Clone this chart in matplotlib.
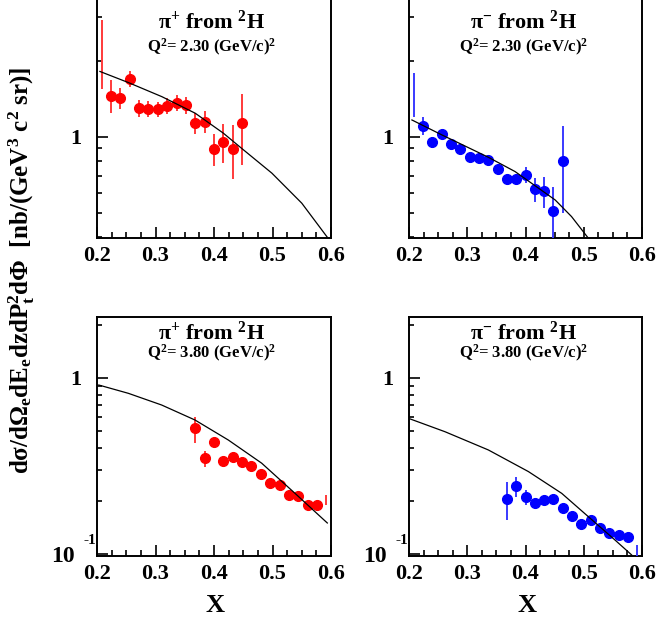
import matplotlib
matplotlib.use('Agg')
import matplotlib.pyplot as plt
from matplotlib.ticker import FixedLocator, NullFormatter

plt.rcParams.update({
    'font.family': ['Liberation Serif', 'DejaVu Serif'],
    'font.weight': 'bold',
    'mathtext.fontset': 'custom',
    'mathtext.rm': 'Liberation Serif:bold',
    'mathtext.it': 'Liberation Serif:italic:bold',
    'mathtext.bf': 'Liberation Serif:bold',
    'mathtext.default': 'rm',
    'axes.linewidth': 1.4,
})

# ---------------- data ----------------
# pi+ , Q2 = 2.30
x_tl = [0.224, 0.240, 0.256, 0.272, 0.288, 0.304, 0.320, 0.336, 0.352, 0.368, 0.384, 0.400, 0.416, 0.432, 0.448]
y_tl = [1.458, 1.432, 1.703, 1.300, 1.291, 1.291, 1.327, 1.368, 1.336, 1.133, 1.150, 0.899, 0.955, 0.899, 1.133]
hi_tl = [1.683, 1.569, 1.828, 1.403, 1.389, 1.380, 1.424, 1.468, 1.437, 1.242, 1.268, 1.028, 1.123, 1.113, 1.481]
lo_tl = [1.242, 1.288, 1.583, 1.197, 1.197, 1.200, 1.234, 1.271, 1.234, 1.028, 1.034, 0.767, 0.787, 0.681, 0.774]
barx_tl = [0.208]
barlo_tl = [1.546]
barhi_tl = [2.91]
cx_tl = [0.205, 0.254, 0.311, 0.368, 0.416, 0.447, 0.499, 0.550, 0.595]
cy_tl = [1.820, 1.643, 1.445, 1.242, 1.035, 0.902, 0.718, 0.546, 0.396]

# pi- , Q2 = 2.30
x_tr = [0.224, 0.240, 0.256, 0.272, 0.288, 0.304, 0.320, 0.336, 0.352, 0.368, 0.384, 0.400, 0.416, 0.432, 0.448, 0.464]
y_tr = [1.106, 0.955, 1.028, 0.935, 0.899, 0.835, 0.823, 0.810, 0.746, 0.679, 0.679, 0.707, 0.620, 0.612, 0.509, 0.803]
hi_tr = [1.197, 0.997, 1.060, 0.975, 0.930, 0.860, 0.850, 0.835, 0.770, 0.700, 0.705, 0.762, 0.686, 0.692, 0.632, 1.106]
lo_tr = [1.018, 0.902, 0.997, 0.900, 0.870, 0.810, 0.800, 0.785, 0.722, 0.655, 0.655, 0.655, 0.554, 0.521, 0.350, 0.500]
barx_tr = [0.208]
barlo_tr = [1.204]
barhi_tr = [1.800]
cx_tr = [0.205, 0.256, 0.288, 0.336, 0.382, 0.451, 0.479, 0.508]
cy_tr = [1.168, 1.020, 0.940, 0.831, 0.729, 0.562, 0.483, 0.396]

# pi+ , Q2 = 3.80
x_bl = [0.368, 0.384, 0.400, 0.416, 0.432, 0.448, 0.464, 0.480, 0.496, 0.512, 0.528, 0.544, 0.560, 0.576]
y_bl = [0.518, 0.350, 0.431, 0.338, 0.354, 0.333, 0.315, 0.286, 0.254, 0.247, 0.217, 0.213, 0.189, 0.191]
hi_bl = [0.598, 0.386, 0.445, 0.348, 0.365, 0.343, 0.324, 0.294, 0.261, 0.254, 0.223, 0.219, 0.194, 0.196]
lo_bl = [0.429, 0.311, 0.418, 0.328, 0.343, 0.323, 0.306, 0.278, 0.247, 0.240, 0.211, 0.207, 0.184, 0.186]
barx_bl = [0.592]
barlo_bl = [0.190]
barhi_bl = [0.216]
cx_bl = [0.203, 0.2536, 0.3105, 0.3675, 0.4245, 0.4815, 0.5385, 0.5937]
cy_bl = [0.912, 0.818, 0.702, 0.577, 0.444, 0.328, 0.221, 0.150]

# pi- , Q2 = 3.80
x_br = [0.368, 0.384, 0.400, 0.416, 0.432, 0.448, 0.464, 0.480, 0.496, 0.512, 0.528, 0.544, 0.560, 0.576]
y_br = [0.205, 0.243, 0.212, 0.196, 0.203, 0.204, 0.182, 0.165, 0.149, 0.156, 0.141, 0.132, 0.128, 0.125]
hi_br = [0.258, 0.273, 0.231, 0.202, 0.209, 0.210, 0.187, 0.170, 0.153, 0.160, 0.145, 0.136, 0.132, 0.129]
lo_br = [0.156, 0.212, 0.190, 0.190, 0.197, 0.198, 0.177, 0.160, 0.145, 0.152, 0.137, 0.128, 0.124, 0.121]
barx_br = [0.592]
barlo_br = [0.090]
barhi_br = [0.112]
cx_br = [0.202, 0.2618, 0.3362, 0.4049, 0.4622, 0.5078, 0.5537, 0.5823, 0.585]
cy_br = [0.585, 0.495, 0.390, 0.294, 0.221, 0.163, 0.120, 0.0987, 0.096]

particles = ['π$^{+}$', 'π$^{-}$', 'π$^{+}$', 'π$^{-}$']
q2_labels = ['2.30', '2.30', '3.80', '3.80']
xticks = [0.2, 0.3, 0.4, 0.5, 0.6]
xtick_labels = ['0.2', '0.3', '0.4', '0.5', '0.6']
ylabel = 'dσ/dΩ$_{e}$dE$_{e}$dzdP$_{t}^{2}$dΦ  [nb/(GeV$^{3}$ c$^{2}$ sr)]'
xlabel = 'X'

# ---------------- layout ----------------
W, H = 658, 620
fig = plt.figure(figsize=(W / 100, H / 100), dpi=100)


def rect(x0, y0, x1, y1):
    return [x0 / W, 1 - y1 / H, (x1 - x0) / W, (y1 - y0) / H]


def fxy(px, py):
    return px / W, 1 - py / H


panels = [
    dict(r=(97, -1, 331, 238), x=x_tl, y=y_tl, hi=hi_tl, lo=lo_tl, bx=barx_tl, blo=barlo_tl, bhi=barhi_tl,
         cx=cx_tl, cy=cy_tl, col='#ff0000', ecol='#ff3a3a', ylim=(0.397, 3.53),
         major=[1.0], minor=[0.4, 0.5, 0.6, 0.7, 0.8, 0.9, 2.0, 3.0], t1=22, t2=47),
    dict(r=(409, -1, 642, 238), x=x_tr, y=y_tr, hi=hi_tr, lo=lo_tr, bx=barx_tr, blo=barlo_tr, bhi=barhi_tr,
         cx=cx_tr, cy=cy_tr, col='#0000ff', ecol='#3a3aff', ylim=(0.397, 3.53),
         major=[1.0], minor=[0.4, 0.5, 0.6, 0.7, 0.8, 0.9, 2.0, 3.0], t1=22, t2=47),
    dict(r=(97, 317, 331, 556), x=x_bl, y=y_bl, hi=hi_bl, lo=lo_bl, bx=barx_bl, blo=barlo_bl, bhi=barhi_bl,
         cx=cx_bl, cy=cy_bl, col='#ff0000', ecol='#ff3a3a', ylim=(0.0974, 2.22),
         major=[0.1, 1.0], minor=[0.2, 0.3, 0.4, 0.5, 0.6, 0.7, 0.8, 0.9, 2.0], t1=333, t2=353),
    dict(r=(409, 317, 642, 556), x=x_br, y=y_br, hi=hi_br, lo=lo_br, bx=barx_br, blo=barlo_br, bhi=barhi_br,
         cx=cx_br, cy=cy_br, col='#0000ff', ecol='#3a3aff', ylim=(0.0974, 2.22),
         major=[0.1, 1.0], minor=[0.2, 0.3, 0.4, 0.5, 0.6, 0.7, 0.8, 0.9, 2.0], t1=333, t2=353),
]

for i, p in enumerate(panels):
    ax = fig.add_axes(rect(*p['r']))
    ax.set_yscale('log')
    ax.set_xlim(0.2, 0.6)
    ax.set_ylim(*p['ylim'])
    yerr = [[v - l for v, l in zip(p['y'], p['lo'])], [h - v for v, h in zip(p['y'], p['hi'])]]
    ax.errorbar(p['x'], p['y'], yerr=yerr, fmt='o', color=p['col'], ecolor=p['ecol'],
                ms=7, mec=p['col'], elinewidth=1.4, capsize=0, zorder=3)
    ax.vlines(p['bx'], p['blo'], p['bhi'], color=p['ecol'], lw=1.4, zorder=3)
    ax.plot(p['cx'], p['cy'], color='black', lw=0.9, zorder=4)

    ax.xaxis.set_major_locator(FixedLocator(xticks))
    ax.set_xticklabels(xtick_labels)
    ax.xaxis.set_minor_locator(FixedLocator([0.225, 0.25, 0.275, 0.325, 0.35, 0.375,
                                             0.425, 0.45, 0.475, 0.525, 0.55, 0.575]))
    ax.yaxis.set_major_locator(FixedLocator(p['major']))
    ax.set_yticklabels(['1' if v == 1.0 else '' for v in p['major']])
    ax.yaxis.set_minor_locator(FixedLocator(p['minor']))
    ax.yaxis.set_minor_formatter(NullFormatter())
    ax.tick_params(which='both', direction='in', top=False, right=False, width=1.2)
    ax.tick_params(axis='x', which='major', length=8, pad=6, labelsize=16)
    ax.tick_params(axis='x', which='minor', length=4.3)
    ax.tick_params(axis='y', which='major', length=8, pad=11, labelsize=16)
    ax.tick_params(axis='y', which='minor', length=3.8)

    cxp = (p['r'][0] + p['r'][2]) / 2
    fig.text(*fxy(cxp - 2, p['t1']), particles[i] + ' from $^{2}$H', ha='center', va='center', fontsize=16)
    fig.text(*fxy(cxp - 2, p['t2']), 'Q$^{2}$= ' + q2_labels[i] + ' (GeV/c)$^{2}$', ha='center', va='center',
             fontsize=12)
    if i >= 2:
        fig.text(*fxy(p['r'][0] - 34.5, 557), '10', ha='center', va='center', fontsize=17)
        fig.text(*fxy(p['r'][0] - 7.5, 541), '-1', ha='center', va='center', fontsize=11)
        fig.text(*fxy(cxp + 1, 605), xlabel, ha='center', va='center', fontsize=19)

fig.text(*fxy(22, 270), ylabel, rotation=90, ha='center', va='center', fontsize=18)

fig.savefig('out.png', dpi=100)
